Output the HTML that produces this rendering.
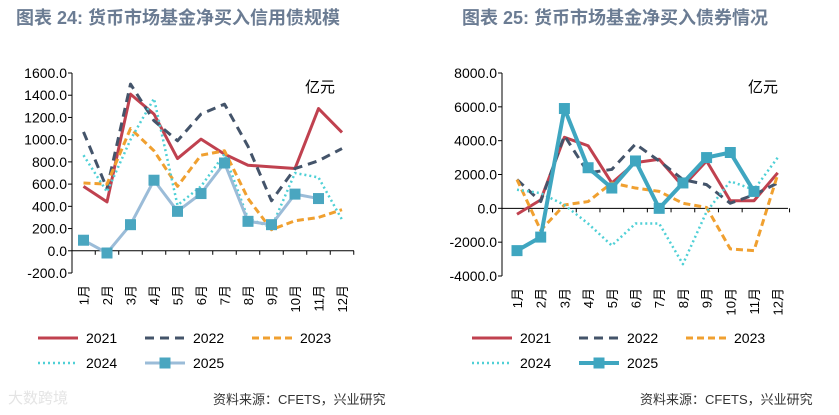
<!DOCTYPE html>
<html><head><meta charset="utf-8">
<style>
body{margin:0;background:#fff;width:839px;height:410px;overflow:hidden;font-family:"Liberation Sans","Noto Sans CJK SC",sans-serif;}
</style></head>
<body>
<svg id="svg" width="839" height="410" xmlns="http://www.w3.org/2000/svg">
<text x="16" y="24" font-size="18" font-weight="bold" fill="#6b7c93" font-family="Liberation Sans, Noto Sans CJK SC, sans-serif">图表 24: 货币市场基金净买入信用债规模</text>
<text x="462" y="24" font-size="18" font-weight="bold" fill="#6b7c93" font-family="Liberation Sans, Noto Sans CJK SC, sans-serif">图表 25: 货币市场基金净买入债券情况</text>
<text x="213" y="404" font-size="13" fill="#333" font-family="Liberation Sans, Noto Sans CJK SC, sans-serif">资料来源：CFETS，兴业研究</text>
<text x="640" y="404" font-size="13" fill="#333" font-family="Liberation Sans, Noto Sans CJK SC, sans-serif">资料来源：CFETS，兴业研究</text>
<text x="8" y="403" font-size="15" fill="#e4e4e4" font-family="Liberation Sans, Noto Sans CJK SC, sans-serif">大数跨境</text>
</svg>
<script>
const months=['1月','2月','3月','4月','5月','6月','7月','8月','9月','10月','11月','12月'];
const seriesNames=['2021','2022','2023','2024','2025'];
const leftTicks=[-200,0,200,400,600,800,1000,1200,1400,1600];
const left2021=[580,440,1410,1230,830,1005,870,770,755,740,1280,1065];
const left2022=[1070,560,1500,1170,990,1230,1320,940,450,740,810,920];
const left2023=[610,600,1100,900,580,860,900,470,190,270,300,370];
const left2024=[860,530,1000,1370,410,580,870,290,210,700,660,280];
const left2025=[95,-20,235,635,355,515,790,265,235,510,470];
const rightTicks=[-4000,-2000,0,2000,4000,6000,8000];
const right2021=[-350,500,4200,3700,1500,2700,2900,1300,2800,450,450,2100];
const right2022=[1700,400,4300,2100,2300,3800,2800,1700,1400,300,800,1500];
const right2023=[1700,-1300,200,400,1500,1200,1000,300,50,-2400,-2500,2000];
const right2024=[1100,900,200,-900,-2200,-900,-900,-3300,-200,1600,1100,3000];
const right2025=[-2500,-1700,5900,2400,1200,2800,0,1500,3000,3300,1000];

const NS='http://www.w3.org/2000/svg';
const svg=document.getElementById('svg');
function mk(tag,attrs,parent){const e=document.createElementNS(NS,tag);for(const k in attrs)e.setAttribute(k,attrs[k]);(parent||svg).appendChild(e);return e;}
const styles=[
 {stroke:'#c0414f',w:3,dash:''},
 {stroke:'#44546a',w:3,dash:'9,6'},
 {stroke:'#f0a030',w:3,dash:'7,4'},
 {stroke:'#4fd0d6',w:2.5,dash:'2,3'},
 {stroke:'#9bbcd8',w:3,dash:'',marker:'#4aa6c0'}
];
const stylesR=styles.slice(0,4).concat([{stroke:'#3fa6c0',w:4,dash:'',marker:'#3fa6c0'}]);

function chart(o){
 const g=mk('g',{});
 
 
 const y=v=>o.y0+(v-o.vmin)/(o.vmax-o.vmin)*(o.y1-o.y0);
 const x=i=>o.xStart+i*o.step;
 mk('line',{x1:o.ax,y1:y(o.vmax),x2:o.ax,y2:y(o.vmin),stroke:'#000','stroke-width':1},g);
 o.ticks.forEach(t=>{
  const tl=mk('text',{x:o.ax-5,y:y(t)+5,'text-anchor':'end','font-size':14,fill:'#000','font-family':'Liberation Sans, sans-serif'},g);
  tl.textContent=t.toFixed(1);
  
  
  mk('line',{x1:o.ax-4,y1:y(t),x2:o.ax,y2:y(t),stroke:'#000'},g);
 });
 mk('line',{x1:o.ax,y1:y(0),x2:o.axEnd,y2:y(0),stroke:'#000','stroke-width':1},g);
 months.forEach((m,i)=>{
  const tx=mk('text',{transform:`translate(${x(i)+5},${y(o.vmin)+12}) rotate(-90)`,'text-anchor':'end','font-size':13,fill:'#000','font-family':'Liberation Sans, Noto Sans CJK SC, sans-serif'},g);
  tx.textContent=m;
  
  
  mk('line',{x1:x(i)+o.step/2,y1:y(0),x2:x(i)+o.step/2,y2:y(0)+4,stroke:'#000'},g);
 });
 const u=mk('text',{x:o.unitX,y:o.unitY,'font-size':15,fill:'#000','font-family':'Noto Sans CJK SC, sans-serif'},g);
 u.textContent='亿元';
 
 
 o.series.forEach((s,si)=>{
  const st=o.styles[si];
  const pl=mk('polyline',{points:s.map((v,i)=>x(i)+','+y(v)).join(' '),fill:'none',stroke:st.stroke,'stroke-width':st.w,'stroke-dasharray':st.dash,'stroke-linejoin':'round'},g);
  
  
  if(st.marker){s.forEach((v,i)=>{
   const r=mk('rect',{x:x(i)-5.5,y:y(v)-5.5,width:11,height:11,fill:st.marker},g);
   
   
  });}
 });
 const r1=338,r2=363;
 const pos=[[o.lx,r1],[o.lx+107,r1],[o.lx+214,r1],[o.lx,r2],[o.lx+107,r2]];
 seriesNames.forEach((n,si)=>{
  const st=o.styles[si];const [px,py]=pos[si];
  const lg=mk('g',{},g);
  
  
  mk('line',{x1:px,y1:py,x2:px+40,y2:py,stroke:st.stroke,'stroke-width':st.w,'stroke-dasharray':st.dash},lg);
  if(st.marker)mk('rect',{x:px+14.5,y:py-5.5,width:11,height:11,fill:st.marker},lg);
  const t=mk('text',{x:px+48,y:py+5,'font-size':14,fill:'#000','font-family':'Liberation Sans, sans-serif'},lg);
  t.textContent=n;
 });
}
chart({name:'left-chart',ticks:leftTicks,vmin:-200,vmax:1600,y0:273,y1:73,ax:72,axEnd:354,xStart:83.5,step:23.5,unitX:305,unitY:92,
 series:[left2021,left2022,left2023,left2024,left2025],styles:styles,lx:38});
chart({name:'right-chart',ticks:rightTicks,vmin:-4000,vmax:8000,y0:276,y1:73,ax:502,axEnd:788,xStart:517,step:23.7,unitX:748,unitY:92,
 series:[right2021,right2022,right2023,right2024,right2025],styles:stylesR,lx:472});
</script>
</body></html>
